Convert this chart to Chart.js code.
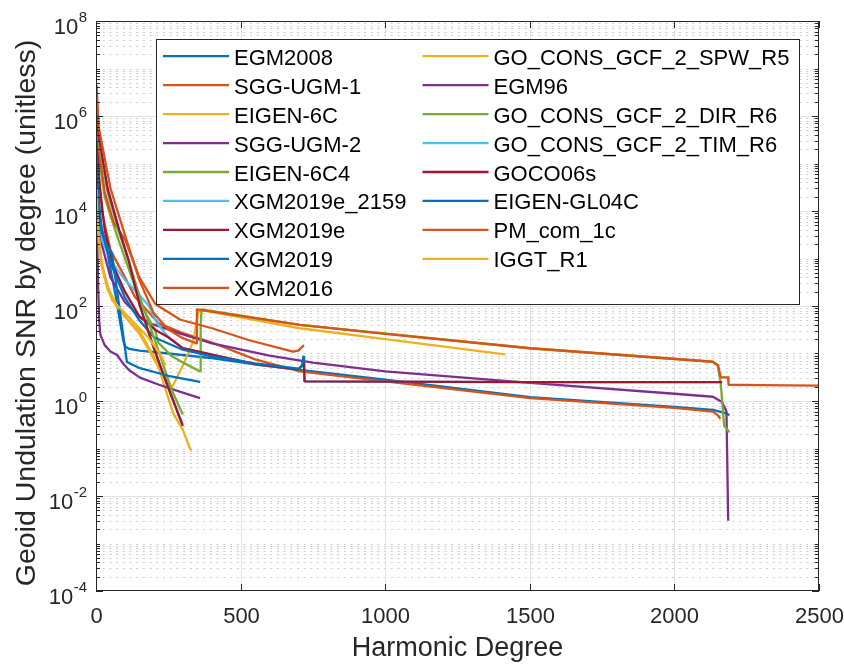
<!DOCTYPE html>
<html>
<head>
<meta charset="utf-8">
<script src="https://cdn.jsdelivr.net/npm/chart.js@4"></script>
<style>
  html, body { margin: 0; padding: 0; background: #fff; }
  #wrap { width: 844px; height: 664px; }
</style>
</head>
<body>
<div id="wrap"><canvas id="snrChart" width="844" height="664"></canvas></div>
<script>
// legend names, in plotting order (MATLAB colour order cycles)
const seriesNames = [
  'EGM2008', 'SGG-UGM-1', 'EIGEN-6C', 'SGG-UGM-2', 'EIGEN-6C4', 'XGM2019e_2159',
  'XGM2019e', 'XGM2019', 'XGM2016', 'GO_CONS_GCF_2_SPW_R5', 'EGM96',
  'GO_CONS_GCF_2_DIR_R6', 'GO_CONS_GCF_2_TIM_R6', 'GOCO06s', 'EIGEN-GL04C',
  'PM_com_1c', 'IGGT_R1'
];
const xTicks = [0, 500, 1000, 1500, 2000, 2500];
const yTickExponents = [-4, -2, 0, 2, 4, 6, 8];

// [harmonic degree, SNR]
const egm2008 = [[2, 2e5], [5, 4e4], [10, 1e4], [20, 4000], [32, 2400], [50, 600], [70, 140], [85, 40], [95, 18], [101, 14], [115, 12.5], [150, 11.5], [250, 10], [400, 8], [567, 5.7], [705, 4.5], [1000, 2.8], [1501, 1.2], [2000, 0.75], [2133, 0.65], [2180, 0.55], [2190, 0.5]];
const sggUgm1 = [[2, 2e6], [5, 3e5], [10, 6e4], [20, 1e4], [50, 1500], [100, 400], [135, 155], [217, 43], [300, 27], [401, 17], [550, 7.5], [705, 4.2], [1000, 2.6], [1501, 1.15], [2000, 0.72], [2133, 0.6], [2150, 0.5], [2159, 0.42]];
const eigen6c = [[2, 1e5], [5, 1.5e4], [10, 3000], [20, 800], [40, 250], [70, 110], [100, 60], [152, 25], [210, 6], [240, 3], [262, 1.9], [300, 5.5], [336, 17.8], [353, 71], [360, 83], [705, 34], [1000, 20], [1414, 9.6]];
const sggUgm2 = [[2, 5e5], [5, 6e4], [10, 1e4], [20, 2000], [50, 400], [100, 120], [150, 60], [188, 43], [290, 26.6], [401, 16.4], [600, 9], [750, 6.4], [1000, 4.2], [1501, 2.4], [2000, 1.42], [2133, 1.23], [2165, 0.95], [2180, 0.6], [2186, 0.003]];
const eigen6c4 = [[2, 1e6], [9, 1.5e5], [30, 2e4], [50, 8000], [78, 2450], [159, 97], [205, 30], [215, 17], [260, 9], [300, 6.5], [360, 4.2], [362, 40], [365, 85], [705, 40], [1501, 12.9], [2133, 6.7], [2150, 5.5], [2160, 2.4], [2172, 0.3], [2190, 0.22]];
const xgm2019e2159 = [[2, 2.5e5], [5, 8e4], [10, 1.5e4], [21, 2450], [50, 900], [100, 354], [150, 170], [183, 100], [210, 45], [250, 22], [300, 13], [401, 9.5], [550, 6], [700, 4.6], [716, 6], [719, 8], [721, 2.6], [1000, 2.55], [1500, 2.5], [2000, 2.5], [2159, 2.5]];
const xgm2019e = [[2, 1.5e6], [5, 3e5], [10, 5e4], [30, 4000], [60, 700], [100, 200], [150, 60], [210, 30], [250, 22], [300, 13], [401, 9.5], [550, 6], [700, 4.6], [716, 6], [719, 8], [721, 2.6], [1000, 2.55], [1500, 2.5], [2000, 2.5], [2165, 2.5]];
const xgm2019 = [[2, 3e5], [5, 6e4], [10, 1.5e4], [20, 4000], [50, 800], [100, 150], [150, 50], [200, 22], [300, 12], [400, 8.7], [550, 6.2], [700, 4.8], [712, 5.3], [717, 8.6], [719, 6.7]];
const xgm2016 = [[2, 3e6], [10, 2e5], [30, 2.5e4], [60, 6000], [101, 2450], [150, 400], [205, 110], [290, 52], [401, 34], [530, 19], [681, 10.9], [700, 11.5], [711, 13.5], [719, 15]];
const spwR5 = [[2, 5e4], [5, 1e4], [10, 2500], [20, 700], [40, 220], [70, 100], [100, 60], [152, 29], [210, 6.7], [267, 0.55], [300, 0.25], [325, 0.1], [330, 0.09]];
const egm96 = [[2, 8e5], [3, 3e4], [4, 3000], [7, 300], [11, 50], [15, 25], [30, 15], [50, 11], [73, 9.3], [95, 6], [114, 4.5], [152, 3.1], [218, 2.2], [300, 1.5], [360, 1.15]];
const dirR6 = [[2, 1.5e6], [9, 3e5], [40, 2.5e4], [80, 3500], [113, 900], [152, 150], [200, 22], [262, 1.7], [300, 0.52]];
const timR6 = [[2, 1.8e6], [9, 3.8e5], [40, 2.9e4], [80, 3900], [113, 900], [152, 100], [200, 13], [250, 1.9], [300, 0.32]];
const goco06s = [[2, 2e6], [9, 4e5], [40, 3e4], [80, 4000], [113, 900], [152, 100], [200, 13], [250, 1.9], [300, 0.3]];
const eigenGl04c = [[2, 1.2e5], [5, 3e4], [10, 8000], [20, 3500], [35, 2000], [55, 1300], [75, 170], [95, 22], [107, 6.6], [152, 4.9], [250, 3.4], [355, 2.55], [360, 2.5]];
const pmCom1c = [[2, 4.5e6], [9, 6e5], [50, 3e4], [101, 3000], [150, 350], [200, 70], [250, 32], [300, 21], [346, 16.4], [349, 85], [705, 40], [1000, 26], [1501, 12.9], [2133, 6.7], [2151, 5.7], [2160, 3.15], [2186, 3.15], [2187, 2.2], [2300, 2.15], [2500, 2.1]];
const iggtR1 = [[2, 3e4], [5, 8000], [9, 2450], [20, 700], [55, 134], [124, 50], [180, 22], [221, 10], [240, 5.5]];

const seriesData = [egm2008, sggUgm1, eigen6c, sggUgm2, eigen6c4, xgm2019e2159,
  xgm2019e, xgm2019, xgm2016, spwR5, egm96, dirR6, timR6, goco06s, eigenGl04c,
  pmCom1c, iggtR1];

// MATLAB default line colours
const palette = ['#0072BD', '#D95319', '#EDB120', '#7E2F8E', '#77AC30', '#4DBEEE', '#A2142F'];
const axisColor = '#262626';
const fontFamily = "'Liberation Sans', Arial, Helvetica, sans-serif";

const datasets = seriesNames.map((name, i) => ({
  label: name,
  data: seriesData[i].map(p => ({ x: p[0], y: p[1] })),
  borderColor: palette[i % palette.length],
  backgroundColor: palette[i % palette.length],
  borderWidth: 2.3,
  borderJoinStyle: 'round',
  pointRadius: 0,
  tension: 0,
  fill: false,
  order: seriesNames.length - i   // later series drawn on top, like MATLAB
}));

function hLine(ctx, x0, x1, y) {
  ctx.beginPath(); ctx.moveTo(x0, y); ctx.lineTo(x1, y); ctx.stroke();
}
function vLine(ctx, x, y0, y1) {
  ctx.beginPath(); ctx.moveTo(x, y0); ctx.lineTo(x, y1); ctx.stroke();
}

// grid, box, ticks, labels and legend drawn in MATLAB fashion
const matlabAxes = {
  id: 'matlabAxes',
  beforeDatasetsDraw(chart) {
    const { ctx, chartArea: a, scales } = chart;
    ctx.save();
    ctx.lineWidth = 1;
    ctx.strokeStyle = '#cdcdcd';
    ctx.setLineDash([2, 4.7]);
    for (let e = -4; e < 8; e++) {
      for (let k = 1; k < 10; k++) {
        if (k === 1 && yTickExponents.includes(e)) continue;
        const py = Math.round(scales.y.getPixelForValue(k * Math.pow(10, e))) + 0.5;
        hLine(ctx, a.left, a.right, py);
      }
    }
    ctx.setLineDash([]);
    ctx.strokeStyle = '#e1e1e1';
    yTickExponents.slice(1, -1).forEach(e => {
      const py = Math.round(scales.y.getPixelForValue(Math.pow(10, e))) + 0.5;
      hLine(ctx, a.left, a.right, py);
    });
    xTicks.slice(1, -1).forEach(v => {
      const px = Math.round(scales.x.getPixelForValue(v)) + 0.5;
      vLine(ctx, px, a.top, a.bottom);
    });
    ctx.restore();
  },
  afterDatasetsDraw(chart) {
    const { ctx, chartArea: a, scales } = chart;
    ctx.save();
    ctx.strokeStyle = axisColor;
    ctx.fillStyle = axisColor;
    ctx.lineWidth = 1;
    ctx.strokeRect(a.left + 0.5, a.top + 0.5, a.right - a.left - 1, a.bottom - a.top - 1);

    // x ticks (inward, bottom and top)
    ctx.font = '22px ' + fontFamily;
    ctx.textAlign = 'center';
    ctx.textBaseline = 'alphabetic';
    xTicks.forEach(v => {
      const px = Math.round(scales.x.getPixelForValue(v)) + 0.5;
      vLine(ctx, px, a.bottom, a.bottom - 7);
      vLine(ctx, px, a.top, a.top + 7);
      ctx.fillText(String(v), px, a.bottom + 32);
    });

    // y ticks: major every other decade, minor elsewhere
    for (let e = -4; e < 8; e++) {
      for (let k = 1; k < 10; k++) {
        if (k === 1 && yTickExponents.includes(e)) continue;
        const py = Math.round(scales.y.getPixelForValue(k * Math.pow(10, e))) + 0.5;
        hLine(ctx, a.left, a.left + 4, py);
        hLine(ctx, a.right, a.right - 4, py);
      }
    }
    yTickExponents.forEach(e => {
      const py = Math.round(scales.y.getPixelForValue(Math.pow(10, e))) + 0.5;
      hLine(ctx, a.left, a.left + 7, py);
      hLine(ctx, a.right, a.right - 7, py);
      const right = a.left - 9;
      ctx.textAlign = 'right';
      ctx.font = '15px ' + fontFamily;
      const expText = String(e);
      const expW = ctx.measureText(expText).width;
      ctx.fillText(expText, right, py + 0.5);
      ctx.font = '22px ' + fontFamily;
      ctx.fillText('10', right - expW - 0.5, py + 12);
    });

    // axis titles
    ctx.textAlign = 'center';
    ctx.font = '27px ' + fontFamily;
    ctx.fillText('Harmonic Degree', (a.left + a.right) / 2, 656);
    ctx.save();
    ctx.translate(35, 313);
    ctx.rotate(-Math.PI / 2);
    ctx.font = '28.5px ' + fontFamily;
    ctx.fillText('Geoid Undulation SNR by degree (unitless)', 0, 0);
    ctx.restore();

    // legend box, two columns
    const box = { left: 156, top: 39, right: 800, bottom: 305 };
    ctx.fillStyle = '#ffffff';
    ctx.fillRect(box.left, box.top, box.right - box.left, box.bottom - box.top);
    ctx.strokeStyle = axisColor;
    ctx.strokeRect(box.left + 0.5, box.top + 0.5, box.right - box.left - 1, box.bottom - box.top - 1);
    const rowsPerCol = 9;
    const colX = [163, 422.5];
    ctx.font = '22px ' + fontFamily;
    ctx.textAlign = 'left';
    seriesNames.forEach((name, i) => {
      const col = Math.floor(i / rowsPerCol);
      const row = i % rowsPerCol;
      const ly = 56.2 + row * 28.95;
      ctx.strokeStyle = palette[i % palette.length];
      ctx.lineWidth = 2.3;
      hLine(ctx, colX[col], colX[col] + 66, ly);
      ctx.fillStyle = '#000000';
      ctx.fillText(name, colX[col] + 71, ly + 8.5);
    });
    ctx.restore();
  }
};

const chart = new Chart(document.getElementById('snrChart'), {
  type: 'line',
  data: { datasets: datasets },
  options: {
    responsive: false,
    animation: false,
    layout: { padding: { left: 96, right: 25, top: 21, bottom: 73 } },
    plugins: {
      legend: { display: false },
      tooltip: { enabled: false }
    },
    scales: {
      x: { type: 'linear', min: 0, max: 2500, display: false },
      y: { type: 'logarithmic', min: 1e-4, max: 1e8, display: false }
    }
  },
  plugins: [matlabAxes]
});
</script>
</body>
</html>
